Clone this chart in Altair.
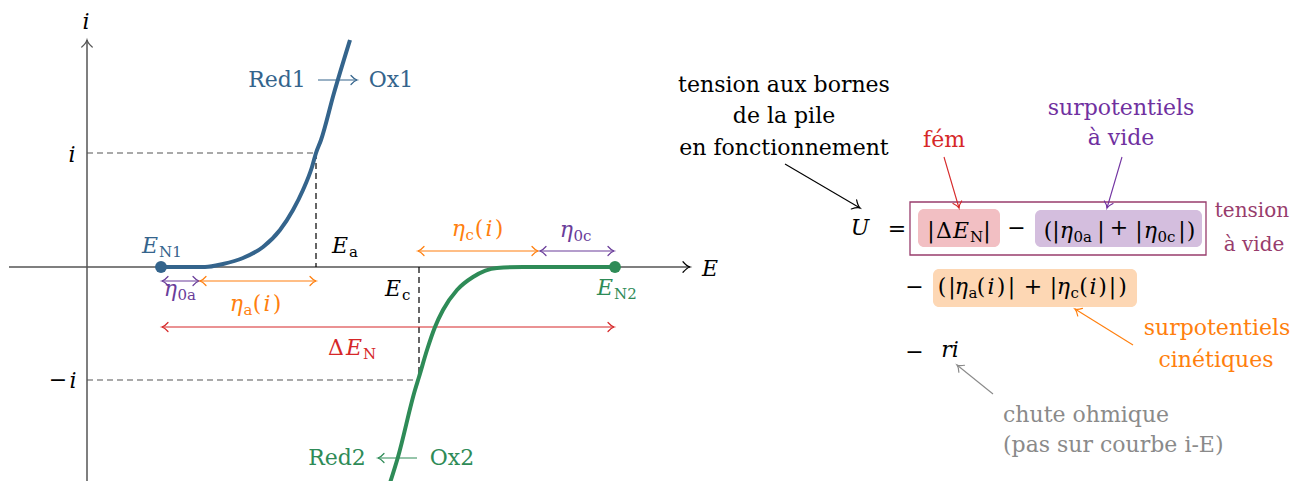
import math
import altair as alt
import pandas as pd

FONT = "DejaVu Serif"
BLACK = "#000000"
AXGRAY = "#555555"
BLUE = "#34648c"
GREEN = "#2e8b57"
RED = "#d62728"
ORANGE = "#ff7f0e"
PURPLE = "#6a3d9a"
VIOLET = "#7030a0"
MAROON = "#983c6c"
GRAY = "#8a8a8a"

# ---------------- data (page-pixel coordinates) -------------
# anodic curve Red1 -> Ox1
blue_E = [161, 190, 205, 223, 243, 263, 280, 293, 303, 312, 316, 321, 334, 350]
blue_i = [267, 267, 267, 264, 258, 247, 230, 210, 190, 167, 153, 140, 93, 40]
# cathodic curve Red2 <- Ox2
green_E = [388, 398, 415, 419, 427, 435, 443, 457, 473, 497, 523, 540, 615]
green_i = [489, 457, 390, 377, 350, 327, 310, 290, 277, 268, 267, 267, 267]

# equilibrium points E_N1, E_N2
dots_E = [161, 615]
dots_i = [267, 267]
dots_col = [BLUE, GREEN]

# arrows: x1, y1, x2, y2, colour, width, both-heads, head-length
arrows = [
    (9, 267, 690, 267, BLACK, 1.1, False, 7),
    (87, 489, 87, 40, AXGRAY, 1.5, False, 7),
    (162, 281, 199, 281, PURPLE, 1.2, True, 6),
    (200, 281, 316, 281, ORANGE, 1.2, True, 6),
    (162, 327, 614, 327, RED, 1.2, True, 6),
    (418, 251, 538, 251, ORANGE, 1.2, True, 6),
    (540, 251, 614, 251, PURPLE, 1.2, True, 6),
    (318, 80, 357, 80, BLUE, 1.2, False, 6),
    (417, 458, 378, 458, GREEN, 1.2, False, 6),
    (785, 164, 860, 208, BLACK, 1.1, False, 7),
    (944, 157, 959, 208, RED, 1.1, False, 6),
    (1122, 157, 1107, 208, VIOLET, 1.1, False, 6),
    (1133, 345, 1075, 309, ORANGE, 1.1, False, 6),
    (993, 394, 957, 365, GRAY, 1.1, False, 6),
]

# dashed guides
dashes = [
    (87, 153, 316, 153, AXGRAY),
    (316, 153, 316, 267, BLACK),
    (87, 380, 419, 380, AXGRAY),
    (419, 267, 419, 380, BLACK),
]

# shaded boxes in the equation
boxes = [
    (918, 1000, 209, 247, "#f2bfc3"),
    (1035, 1202, 210, 247, "#d4bede"),
    (933, 1137, 269, 307, "#fdd7b4"),
]
frame = [(910, 1206, 202, 255)]

# texts: text, x, baseline y, colour, size, style, align
M, S = 22, 15  # main and subscript font sizes
N, I = "normal", "italic"
C, L, R = "center", "left", "right"
texts = [
    ("i", 86, 29, BLACK, M, I, C),
    ("E", 710, 276, BLACK, M, I, C),
    ("i", 72, 162, BLACK, M, I, C),
    ("\u2212", 58, 387, BLACK, M, N, C),
    ("i", 73, 388, BLACK, M, I, C),
    ("Red1", 277, 87, BLUE, M, N, C),
    ("Ox1", 391, 87, BLUE, M, N, C),
    ("Red2", 337, 465, GREEN, M, N, C),
    ("Ox2", 452, 465, GREEN, M, N, C),
    ("E", 158, 253, BLUE, M, I, R),
    ("N1", 159, 257, BLUE, S, N, L),
    ("E", 348, 253, BLACK, M, I, R),
    ("a", 349, 257, BLACK, S, N, L),
    ("E", 401, 296, BLACK, M, I, R),
    ("c", 402, 300, BLACK, S, N, L),
    ("E", 613, 295, GREEN, M, I, R),
    ("N2", 614, 299, GREEN, S, N, L),
    ("\u03b7", 177, 296, PURPLE, M, I, R),
    ("0a", 177.5, 300, PURPLE, S, N, L),
    ("\u03b7", 243, 311, ORANGE, M, I, R),
    ("a", 243.5, 315, ORANGE, S, N, L),
    ("(", 257, 311, ORANGE, M, N, C),
    ("i", 267, 311, ORANGE, M, I, C),
    (")", 277, 311, ORANGE, M, N, C),
    ("\u03b7", 465, 236, ORANGE, M, I, R),
    ("c", 465.5, 240, ORANGE, S, N, L),
    ("(", 479, 236, ORANGE, M, N, C),
    ("i", 489, 236, ORANGE, M, I, C),
    (")", 499, 236, ORANGE, M, N, C),
    ("\u03b7", 573, 237, PURPLE, M, I, R),
    ("0c", 573.5, 241, PURPLE, S, N, L),
    ("\u0394", 344, 355, RED, M, N, R),
    ("E", 362, 355, RED, M, I, R),
    ("N", 363, 359, RED, S, N, L),
    # right-hand annotations
    ("tension aux bornes", 784, 92, BLACK, M, N, C),
    ("de la pile", 784, 123, BLACK, M, N, C),
    ("en fonctionnement", 784, 155, BLACK, M, N, C),
    ("U", 860, 235, BLACK, M, I, C),
    ("=", 897, 236, BLACK, M, N, C),
    ("|", 931, 238, BLACK, M, N, C),
    ("\u0394", 952, 238, BLACK, M, N, R),
    ("E", 969, 238, BLACK, M, I, R),
    ("N", 970, 242, BLACK, S, N, L),
    ("|", 987, 238, BLACK, M, N, C),
    ("\u2212", 1016.5, 235, BLACK, M, N, C),
    ("(", 1048, 238, BLACK, M, N, C),
    ("|", 1056, 238, BLACK, M, N, C),
    ("\u03b7", 1073, 238, BLACK, M, I, R),
    ("0a", 1073.5, 242, BLACK, S, N, L),
    ("|", 1101, 238, BLACK, M, N, C),
    ("+", 1119, 235, BLACK, M, N, C),
    ("|", 1139, 238, BLACK, M, N, C),
    ("\u03b7", 1157, 238, BLACK, M, I, R),
    ("0c", 1157.5, 242, BLACK, S, N, L),
    ("|", 1182, 238, BLACK, M, N, C),
    (")", 1191, 238, BLACK, M, N, C),
    ("tension", 1252, 217, MAROON, 20, N, C),
    ("\u00e0 vide", 1254, 251, MAROON, 20, N, C),
    ("f\u00e9m", 944, 147, RED, M, N, C),
    ("surpotentiels", 1121, 115, VIOLET, M, N, C),
    ("\u00e0 vide", 1121, 145, VIOLET, M, N, C),
    ("\u2212", 914.5, 294, BLACK, M, N, C),
    ("(", 942, 294, BLACK, M, N, C),
    ("|", 952, 294, BLACK, M, N, C),
    ("\u03b7", 968, 294, BLACK, M, I, R),
    ("a", 968.5, 298, BLACK, S, N, L),
    ("(", 981, 294, BLACK, M, N, C),
    ("i", 991, 294, BLACK, M, I, C),
    (")", 1001, 294, BLACK, M, N, C),
    ("|", 1011.5, 294, BLACK, M, N, C),
    ("+", 1033, 294, BLACK, M, N, C),
    ("|", 1053.5, 294, BLACK, M, N, C),
    ("\u03b7", 1070, 294, BLACK, M, I, R),
    ("c", 1070.5, 298, BLACK, S, N, L),
    ("(", 1083.5, 294, BLACK, M, N, C),
    ("i", 1093, 294, BLACK, M, I, C),
    (")", 1102.5, 294, BLACK, M, N, C),
    ("|", 1112.5, 294, BLACK, M, N, C),
    (")", 1122.5, 294, BLACK, M, N, C),
    ("surpotentiels", 1217, 335, ORANGE, M, N, C),
    ("cin\u00e9tiques", 1216, 367, ORANGE, M, N, C),
    ("\u2212", 914.5, 359, BLACK, M, N, C),
    ("ri", 950, 357, BLACK, M, I, C),
    ("chute ohmique", 1003, 422, GRAY, M, N, L),
    ("(pas sur courbe i-E)", 1003, 452, GRAY, M, N, L),
]

# ---------------- build tables -------------
xs = alt.Scale(domain=[8, 1290], nice=False, zero=False)
ys = alt.Scale(domain=[8, 481], nice=False, zero=False, reverse=True)


def X(f):
    return alt.X(f, type="quantitative", scale=xs, axis=None)


def Y(f):
    return alt.Y(f, type="quantitative", scale=ys, axis=None)


seg_rows = [dict(x1=a[0], y1=a[1], x2=a[2], y2=a[3], col=a[4], w=a[5]) for a in arrows]
head_rows = []
for a in arrows:
    x1, y1, x2, y2, col, w, both, hl = a
    ang = math.degrees(math.atan2(y2 - y1, x2 - x1)) % 360
    head_rows.append(dict(x=x2, y=y2, ang=ang, col=col, s=(2 * hl) ** 2))
    if both:
        head_rows.append(dict(x=x1, y=y1, ang=(ang + 180) % 360, col=col, s=(2 * hl) ** 2))
dash_rows = [dict(x1=d[0], y1=d[1], x2=d[2], y2=d[3], col=d[4]) for d in dashes]
box_rows = [dict(x1=b[0], x2=b[1], y1=b[2], y2=b[3], col=b[4]) for b in boxes]
frame_rows = [dict(x1=b[0], x2=b[1], y1=b[2], y2=b[3]) for b in frame]
curve_rows = (
    [dict(E=e, i=v, k=n, c="Red1", col=BLUE) for n, (e, v) in enumerate(zip(blue_E, blue_i))]
    + [dict(E=e, i=v, k=n, c="Ox2", col=GREEN) for n, (e, v) in enumerate(zip(green_E, green_i))]
)
dot_rows = [dict(E=e, i=v, col=c) for e, v, c in zip(dots_E, dots_i, dots_col)]

T = pd.DataFrame(
    [dict(t=r[0], x=r[1], y=r[2], col=r[3], s=r[4], st=r[5], al=r[6]) for r in texts]
)

col_enc = alt.Color("col:N", scale=None)

fills = alt.Chart(pd.DataFrame(box_rows)).mark_rect(cornerRadius=6).encode(
    x=X("x1"), x2="x2", y=Y("y1"), y2="y2", color=col_enc
)
frame_l = alt.Chart(pd.DataFrame(frame_rows)).mark_rect(
    filled=False, stroke=MAROON, strokeWidth=1.3
).encode(x=X("x1"), x2="x2", y=Y("y1"), y2="y2")

dash_l = alt.Chart(pd.DataFrame(dash_rows)).mark_rule(strokeDash=[6, 4], strokeWidth=1.2).encode(
    x=X("x1"), x2="x2", y=Y("y1"), y2="y2", color=col_enc
)
seg_l = alt.Chart(pd.DataFrame(seg_rows)).mark_rule().encode(
    x=X("x1"), x2="x2", y=Y("y1"), y2="y2", color=col_enc,
    strokeWidth=alt.StrokeWidth("w:Q", scale=None),
)
HEAD = "M-1,-0.75 Q-0.45,-0.12 0,0 Q-0.45,0.12 -1,0.75"
head_l = alt.Chart(pd.DataFrame(head_rows)).mark_point(
    shape=HEAD, filled=False, opacity=1, strokeWidth=1.2, strokeCap="round"
).encode(
    x=X("x"), y=Y("y"), color=col_enc,
    angle=alt.Angle("ang:Q", scale=None),
    size=alt.Size("s:Q", scale=None),
)
curve_l = alt.Chart(pd.DataFrame(curve_rows)).mark_line(
    interpolate="monotone", strokeWidth=4
).encode(
    x=X("E"), y=Y("i"), detail="c:N", order="k:Q", color=col_enc
)
dot_l = alt.Chart(pd.DataFrame(dot_rows)).mark_circle(size=140, opacity=1).encode(
    x=X("E"), y=Y("i"), color=col_enc
)

text_layers = []
for (st, al), sub in T.groupby(["st", "al"]):
    text_layers.append(
        alt.Chart(sub).mark_text(
            font=FONT, fontStyle=st, align=al, baseline="alphabetic"
        ).encode(
            x=X("x"), y=Y("y"), text="t:N", color=col_enc,
            size=alt.Size("s:Q", scale=None),
        )
    )

chart = alt.layer(
    fills, frame_l, dash_l, seg_l, head_l, curve_l, dot_l, *text_layers
).properties(
    width=1282, height=473, padding=0, background="white",
    autosize=alt.AutoSizeParams(type="none"),
).configure_view(stroke=None)

chart.save("out.html", embed_options={"renderer": "svg", "actions": False})
